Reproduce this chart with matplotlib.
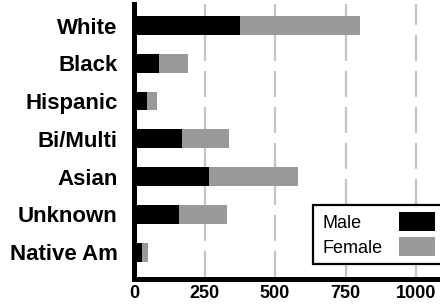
import numpy as np
import matplotlib
matplotlib.use('Agg')
import matplotlib.pyplot as plt
from matplotlib.patches import Rectangle

plt.rcParams['font.family'] = ['Liberation Sans', 'DejaVu Sans']
plt.rcParams['lines.scale_dashes'] = False

# data
groups = ['White', 'Black', 'Hispanic', 'Bi/Multi', 'Asian', 'Unknown', 'Native Am']
male = [375, 88, 45, 169, 266, 158, 28]
female = [425, 104, 36, 167, 316, 171, 20]
xticks = [0, 250, 500, 750, 1000]
series = ['Male', 'Female']
colors = ['#000000', '#999999']

W, H = 440, 307
fig = plt.figure(figsize=(W / 100, H / 100), dpi=100)
ax = fig.add_axes([134 / W, 1 - 278.5 / H, 1 - 134 / W, 274.5 / H])

y = np.arange(len(groups))
ax.barh(y, male, height=0.5, color=colors[0], zorder=2)
ax.barh(y, female, left=male, height=0.5, color=colors[1], zorder=2)

ytop, ybot = -0.57, 6.70
ax.set_ylim(ybot, ytop)
ax.set_xlim(0, 1085)

# dashed vertical grid, drawn top to bottom
for v in xticks[1:]:
    ax.plot([v, v], [ytop, ybot], color='#c4c4c4', lw=1.6,
            ls=(3.6, (18.7, 7.2)), zorder=0, solid_capstyle='butt')

ax.set_yticks(y)
ax.set_yticklabels(groups, fontsize=16, fontweight='bold')
ax.set_xticks(xticks)
ax.set_xticklabels([str(v) for v in xticks], fontsize=13, fontweight='bold')
ax.tick_params(axis='y', length=0, pad=11.7)
ax.tick_params(axis='x', length=0, pad=5)

for s in ['top', 'right']:
    ax.spines[s].set_visible(False)
for s in ['left', 'bottom']:
    ax.spines[s].set_linewidth(3.6)
    ax.spines[s].set_color('black')

# legend box: text on the left, swatch on the right
def px(x, yy):
    return x / W, 1 - yy / H

lx, ly = px(313, 264)
fig.add_artist(Rectangle((lx, ly), (450 - 313) / W, (264 - 205) / H,
                         transform=fig.transFigure, facecolor='white',
                         edgecolor='black', lw=1.6, zorder=5))
base = [228.3, 253.3]
swatch_top = [212, 237]
for lab, c, b, st in zip(series, colors, base, swatch_top):
    tx, ty = px(322, b)
    fig.text(tx, ty, lab, fontsize=13, va='baseline', ha='left', zorder=6)
    sx, sy = px(399, st + 19)
    fig.add_artist(Rectangle((sx, sy), 36 / W, 19 / H, transform=fig.transFigure,
                             facecolor=c, edgecolor='none', zorder=6))

fig.savefig('out.png', dpi=100)
